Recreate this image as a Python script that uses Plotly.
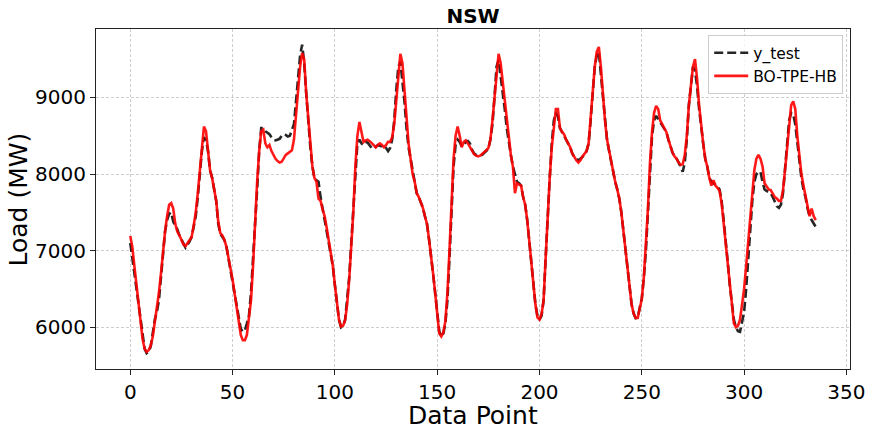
import plotly.graph_objects as go

# ---- data ----
y_test = [
    7100, 6900, 6700, 6500, 6300, 6050, 5850, 5720, 5660, 5680, 5750, 5950, 6100, 6200, 6350, 6650,
    6950, 7250, 7400, 7480, 7500, 7380, 7320, 7280, 7200, 7150, 7080, 7040, 7080, 7120, 7180, 7300,
    7450, 7700, 8000, 8300, 8480, 8450, 8300, 8050, 7950, 7820, 7650, 7350, 7220, 7180, 7140, 7050,
    6900, 6750, 6600, 6450, 6250, 6100, 5980, 5940, 5960, 6050, 6150, 6450, 6850, 7350, 7800, 8300,
    8600, 8600, 8560, 8540, 8520, 8480, 8450, 8440, 8450, 8460, 8500, 8520, 8510, 8490, 8500, 8570,
    8650, 8950, 9250, 9550, 9690, 9450, 9050, 8650, 8350, 8100, 7950, 7920, 7900, 7700, 7550, 7450,
    7300, 7150, 7000, 6800, 6550, 6300, 6100, 6000, 6020, 6100, 6350, 6650, 7100, 7550, 8100, 8400,
    8450, 8400, 8380, 8420, 8410, 8380, 8340, 8330, 8350, 8380, 8370, 8360, 8330, 8340, 8300, 8340,
    8450, 8700, 9100, 9400, 9470, 9250, 8950, 8600, 8350, 8200, 8050, 7920, 7750, 7700, 7640, 7560,
    7450, 7350, 7150, 6950, 6700, 6450, 6200, 5950, 5880, 5920, 6050, 6350, 6900, 7500, 8100, 8380,
    8450, 8420, 8360, 8380, 8420, 8430, 8400, 8320, 8270, 8250, 8240, 8240, 8250, 8280, 8300, 8330,
    8450, 8650, 9000, 9400, 9490, 9300, 9100, 8850, 8600, 8400, 8250, 8100, 8000, 7900, 7880, 7850,
    7700, 7600, 7400, 7100, 6850, 6550, 6300, 6150, 6100, 6150, 6350, 6900, 7500, 7950, 8400, 8700,
    8800, 8750, 8600, 8550, 8500, 8450, 8400, 8350, 8270, 8220, 8200, 8180, 8200, 8220, 8250, 8300,
    8400, 8700, 9050, 9400, 9550, 9600, 9300, 9000, 8700, 8450, 8300, 8150, 8000, 7900, 7800, 7680,
    7500, 7250, 7000, 6800, 6550, 6300, 6180, 6120, 6130, 6250, 6380, 6650, 7000, 7500, 8100, 8500,
    8700, 8760, 8720, 8680, 8640, 8600, 8550, 8450, 8350, 8280, 8230, 8200, 8150, 8100, 8030, 8150,
    8450, 8900, 9200, 9400, 9350, 9150, 8850, 8600, 8400, 8200, 8100, 7950, 7900, 7880, 7860, 7840,
    7800, 7650, 7400, 7150, 6850, 6550, 6300, 6100, 6000, 5950, 5940, 6050, 6200, 6500, 6900, 7250,
    7650, 7900, 8000, 8030, 8030, 7900, 7800, 7780, 7770, 7750, 7700, 7630, 7580, 7560, 7600, 7750,
    8050, 8400, 8700, 8800, 8780, 8650, 8400, 8150, 7950, 7800, 7700, 7550, 7450, 7400, 7360, 7310,
]

bo_tpe_hb = [
    7190, 7050, 6800, 6550, 6300, 6050, 5850, 5720, 5680, 5700, 5760, 5880, 6050, 6250, 6450, 6700,
    7000, 7250, 7450, 7600, 7620, 7550, 7350, 7250, 7200, 7130, 7080, 7060, 7100, 7130, 7180, 7330,
    7500, 7750, 8050, 8400, 8620, 8560, 8300, 8050, 7950, 7820, 7650, 7380, 7230, 7200, 7140, 7050,
    6920, 6780, 6620, 6440, 6250, 6080, 5900, 5830, 5830, 5900, 6100, 6350, 6800, 7400, 7900, 8300,
    8560, 8580, 8400, 8350, 8380, 8300, 8240, 8200, 8170, 8150, 8160, 8200, 8250, 8270, 8290, 8310,
    8450, 8750, 9100, 9400, 9580, 9500, 9050, 8700, 8350, 8100, 7950, 7900, 7680, 7650, 7540, 7450,
    7300, 7150, 6950, 6800, 6550, 6300, 6100, 6010, 6020, 6090, 6300, 6620, 7050, 7500, 8100, 8500,
    8680, 8550, 8420, 8440, 8450, 8430, 8400, 8380, 8350, 8380, 8400, 8380, 8350, 8380, 8420, 8420,
    8480, 8650, 8950, 9250, 9570, 9450, 9100, 8700, 8400, 8200, 8000, 7900, 7750, 7700, 7640, 7560,
    7450, 7350, 7150, 6950, 6700, 6450, 6150, 5920, 5880, 5930, 6080, 6450, 7000, 7600, 8200, 8500,
    8620, 8500, 8350, 8420, 8440, 8400, 8350, 8300, 8260, 8240, 8230, 8240, 8260, 8290, 8310, 8340,
    8450, 8700, 9000, 9350, 9570, 9450, 9200, 8950, 8700, 8450, 8250, 8100, 7750, 7880, 7870, 7850,
    7700, 7600, 7400, 7100, 6850, 6550, 6300, 6130, 6100, 6170, 6350, 6900, 7500, 7950, 8350, 8650,
    8850, 8850, 8600, 8550, 8520, 8450, 8400, 8350, 8270, 8220, 8180, 8150, 8180, 8230, 8270, 8300,
    8400, 8750, 9100, 9400, 9600, 9660, 9400, 9000, 8700, 8450, 8300, 8150, 8000, 7900, 7800, 7680,
    7500, 7250, 7000, 6800, 6550, 6300, 6180, 6120, 6120, 6230, 6370, 6650, 7050, 7550, 8150, 8550,
    8800, 8890, 8850, 8700, 8650, 8600, 8550, 8450, 8350, 8280, 8230, 8200, 8150, 8120, 8130, 8250,
    8500, 8900, 9150, 9400, 9500, 9250, 8900, 8600, 8400, 8200, 8100, 7950, 7850, 7920, 7850, 7820,
    7780, 7620, 7350, 7100, 6800, 6500, 6250, 6050, 6000, 6020, 6100, 6300, 6500, 6800, 7100, 7400,
    7800, 8050, 8200, 8250, 8200, 8100, 7880, 7830, 7800, 7790, 7750, 7700, 7680, 7650, 7650, 7790,
    8050, 8350, 8700, 8900, 8950, 8850, 8500, 8200, 8000, 7850, 7700, 7550, 7450, 7550, 7450, 7400,
]

x_ticks = [0, 50, 100, 150, 200, 250, 300, 350]
y_ticks = [6000, 7000, 8000, 9000]

x = list(range(len(y_test)))

fig = go.Figure()
fig.add_trace(go.Scatter(
    x=x, y=y_test, mode="lines", name="y_test",
    line=dict(color="rgba(0,0,0,0.85)", width=2.6, dash="9px,4px"),
))
fig.add_trace(go.Scatter(
    x=x, y=bo_tpe_hb, mode="lines", name="BO-TPE-HB",
    line=dict(color="rgba(255,0,0,0.9)", width=2.6),
))

font_family = "DejaVu Sans"
axis_common = dict(
    showline=True, linecolor="#222222", linewidth=1.2, mirror=True,
    ticks="outside", ticklen=5, tickwidth=1.2, tickcolor="#222222",
    showgrid=True, gridcolor="rgba(185,185,185,0.7)", griddash="3px,2px", gridwidth=0.8,
    zeroline=False, automargin=False,
    tickfont=dict(size=20, color="black", family=font_family),
)

W, H = 872, 433
fig.update_layout(
    width=W, height=H,
    margin=dict(l=96, r=22, t=29, b=64, autoexpand=False),
    paper_bgcolor="white", plot_bgcolor="white",
    font=dict(family=font_family, color="black"),
    title=dict(text="<b>NSW</b>", x=0.5, xanchor="center", xref="paper",
               y=1 - 16 / H, yanchor="middle", yref="container",
               font=dict(size=20, color="black", family=font_family)),
    xaxis=dict(range=[-16.75, 351.75], tickvals=x_ticks, **axis_common),
    yaxis=dict(range=[5455, 9894], tickvals=y_ticks, **axis_common),
    annotations=[
        dict(text="Data Point", xref="paper", yref="paper", x=0.5, y=-0.137,
             xanchor="center", yanchor="middle", showarrow=False,
             font=dict(size=25, color="black", family=font_family)),
        dict(text="Load (MW)", xref="paper", yref="paper", x=-0.1028, y=0.5,
             xanchor="center", yanchor="middle", textangle=-90, showarrow=False,
             font=dict(size=25, color="black", family=font_family)),
    ],
    legend=dict(x=0.991, y=0.982, xanchor="right", yanchor="top",
                bgcolor="rgba(255,255,255,0.8)", bordercolor="rgba(204,204,204,1)", borderwidth=1,
                font=dict(size=15.5, color="black", family=font_family),
                itemwidth=34, tracegroupgap=0),
    showlegend=True,
)

# remove the default 8px body margin so the figure fills the window exactly
fig.write_html("out.html", config={"displayModeBar": False},
               post_script="document.body.style.margin='0';")
